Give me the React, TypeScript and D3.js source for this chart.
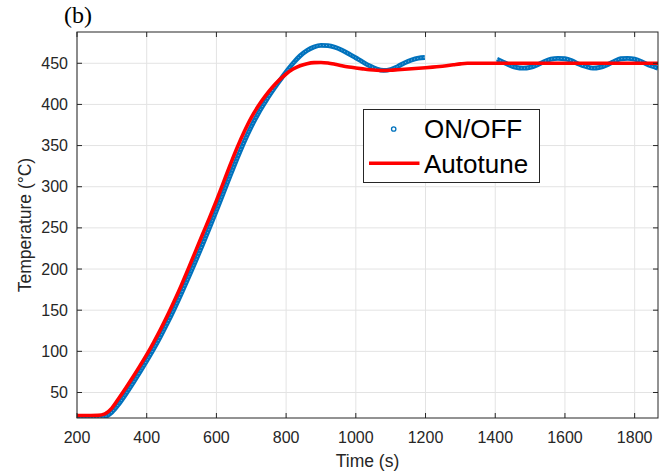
import * as d3 from "d3";

// time (s) and temperature (°C)
const onOffTime1 = [200, 220, 240, 260, 280, 300, 320, 340, 360, 380, 400, 420, 440, 460, 480, 500, 520, 540, 560, 580, 600, 620, 640, 660, 680, 700, 720, 740, 760, 780, 800, 820, 840, 860, 880, 900, 920, 940, 960, 980, 1000, 1020, 1040, 1060, 1080, 1100, 1120, 1140, 1160, 1180, 1198];
const onOffTemp1 = [19, 19, 19, 19.3, 20.5, 26, 36, 48, 61, 74.5, 88.5, 103, 118.5, 135, 152.5, 171, 190, 209.5, 229.5, 250, 271, 292.5, 314, 335, 355, 373, 389, 403, 416, 428, 439.5, 450, 459, 465.5, 469.8, 471.8, 471.5, 469.5, 466, 461.5, 456.5, 451.5, 446.8, 443, 441.3, 442.5, 446, 450.5, 454, 456.2, 457];
const onOffTime2 = [1405, 1420, 1440, 1460, 1480, 1500, 1520, 1540, 1560, 1580, 1600, 1620, 1640, 1660, 1680, 1700, 1720, 1740, 1760, 1780, 1800, 1820, 1840, 1860, 1867];
const onOffTemp2 = [455, 452, 448, 445, 444, 445, 448, 452, 455, 456, 455.5, 453, 449, 446, 444, 445, 448, 452, 455.5, 456, 455, 452, 448, 445, 444];

const autoTime = [200, 220, 240, 260, 280, 300, 320, 340, 360, 380, 400, 420, 440, 460, 480, 500, 520, 540, 560, 580, 600, 620, 640, 660, 680, 700, 720, 740, 760, 780, 800, 820, 840, 860, 880, 900, 920, 940, 960, 980, 1000, 1020, 1040, 1060, 1080, 1100, 1120, 1140, 1160, 1180, 1200, 1220, 1240, 1260, 1280, 1300, 1320, 1400, 1500, 1600, 1700, 1800, 1867];
const autoTemp = [22, 22, 22, 22.2, 24, 31, 43, 55.5, 68.5, 82, 96, 111, 127, 144, 162, 181, 201, 221.5, 242, 262, 283, 305, 327, 348, 367, 384, 398, 410, 420.5, 429.5, 437, 443, 447, 449.5, 450.8, 451, 450.3, 448.8, 447, 445.5, 444.3, 443.2, 442.2, 441.5, 441.2, 441.6, 442.2, 442.8, 443.4, 444, 444.6, 445.3, 446.1, 447.1, 448.2, 449.3, 450, 450, 450, 450, 450, 450, 450];

const xTicks = [200, 400, 600, 800, 1000, 1200, 1400, 1600, 1800];
const yTicks = [50, 100, 150, 200, 250, 300, 350, 400, 450];

const W = 669;
const H = 472;
const left = 77, right = 658, top = 32, bottom = 418;
const axisColor = "#262626";
const font = "Arial, 'Liberation Sans', Helvetica, sans-serif";

export default function App() {
  const x = d3.scaleLinear().domain([200, 1867]).range([left, right]);
  const y = d3.scaleLinear().domain([19, 488]).range([bottom, top]);

  const line = d3
    .line<[number, number]>()
    .x((d) => x(d[0]))
    .y((d) => y(d[1]))
    .curve(d3.curveMonotoneX);

  const seg1 = onOffTime1.map((t, i) => [t, onOffTemp1[i]] as [number, number]);
  const seg2 = onOffTime2.map((t, i) => [t, onOffTemp2[i]] as [number, number]);
  const auto = autoTime.map((t, i) => [t, autoTemp[i]] as [number, number]);

  const tickLen = 5;

  return (
    <svg
      width={W}
      height={H}
      style={{ position: "absolute", left: 0, top: 0, background: "#fff" }}
    >
      <rect x={0} y={0} width={W} height={H} fill="#fff" />
      <defs>
        <clipPath id="plot">
          <rect x={left} y={top} width={right - left} height={bottom - top} />
        </clipPath>
      </defs>

      {/* grid */}
      <g stroke="#e3e3e3" strokeWidth={1}>
        {xTicks.map((t) => (
          <line key={"gx" + t} x1={x(t)} x2={x(t)} y1={top} y2={bottom} />
        ))}
        {yTicks.map((t) => (
          <line key={"gy" + t} x1={left} x2={right} y1={y(t)} y2={y(t)} />
        ))}
      </g>

      {/* series */}
      <g clipPath="url(#plot)" fill="none">
        {[seg1, seg2].map((s, i) => (
          <g key={"b" + i}>
            <path d={line(s) || ""} stroke="#0072BD" strokeWidth={4.8} />
            <path
              d={line(s) || ""}
              stroke="#9fc6e4"
              strokeWidth={1}
              strokeDasharray="1 2.2"
              opacity={0.8}
            />
          </g>
        ))}
        <path d={line(auto) || ""} stroke="#FF0000" strokeWidth={3.6} />
      </g>

      {/* box and ticks */}
      <rect
        x={left}
        y={top}
        width={right - left}
        height={bottom - top}
        fill="none"
        stroke={axisColor}
        strokeWidth={1}
      />
      <g stroke={axisColor} strokeWidth={1}>
        {xTicks.map((t) => (
          <g key={"tx" + t}>
            <line x1={x(t)} x2={x(t)} y1={bottom} y2={bottom - tickLen} />
            <line x1={x(t)} x2={x(t)} y1={top} y2={top + tickLen} />
          </g>
        ))}
        {yTicks.map((t) => (
          <g key={"ty" + t}>
            <line x1={left} x2={left + tickLen} y1={y(t)} y2={y(t)} />
            <line x1={right} x2={right - tickLen} y1={y(t)} y2={y(t)} />
          </g>
        ))}
      </g>

      {/* tick labels */}
      <g fontFamily={font} fontSize={16} fill={axisColor}>
        {xTicks.map((t) => (
          <text key={"lx" + t} x={x(t)} y={443} textAnchor="middle">
            {t}
          </text>
        ))}
        {yTicks.map((t) => (
          <text
            key={"ly" + t}
            x={left - 9}
            y={y(t)}
            textAnchor="end"
            dominantBaseline="central"
          >
            {t}
          </text>
        ))}
      </g>

      {/* axis labels */}
      <text
        x={(left + right) / 2}
        y={467}
        textAnchor="middle"
        fontFamily={font}
        fontSize={17.5}
        fill={axisColor}
      >
        Time (s)
      </text>
      <text
        transform={`translate(31,${(top + bottom) / 2}) rotate(-90)`}
        textAnchor="middle"
        fontFamily={font}
        fontSize={17.5}
        fill={axisColor}
      >
        Temperature (°C)
      </text>

      {/* panel label */}
      <text
        x={64}
        y={23}
        fontFamily="'Liberation Serif', 'Times New Roman', serif"
        fontSize={24}
        fill="#000"
      >
        (b)
      </text>

      {/* legend */}
      <g>
        <rect
          x={363.5}
          y={109.5}
          width={176}
          height={73}
          fill="#fff"
          stroke={axisColor}
          strokeWidth={1}
        />
        <circle
          cx={393.7}
          cy={129}
          r={2.2}
          fill="#fff"
          stroke="#0072BD"
          strokeWidth={1.3}
        />
        <line
          x1={369}
          x2={419.5}
          y1={163.3}
          y2={163.3}
          stroke="#FF0000"
          strokeWidth={3.4}
        />
        <text x={424} y={138.3} fontFamily={font} fontSize={26} fill="#000">
          ON/OFF
        </text>
        <text x={424} y={173.3} fontFamily={font} fontSize={26} fill="#000">
          Autotune
        </text>
      </g>
    </svg>
  );
}
